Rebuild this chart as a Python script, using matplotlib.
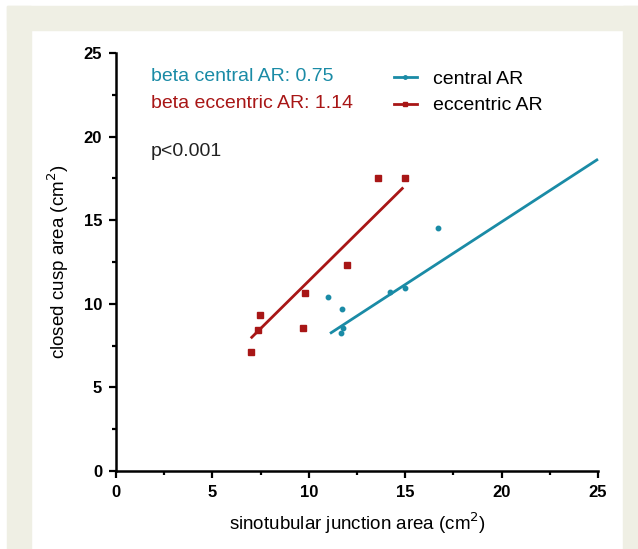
import matplotlib.pyplot as plt
from matplotlib.lines import Line2D
from matplotlib.patches import Rectangle
from matplotlib.ticker import MultipleLocator

plt.rcParams['font.family'] = ['Liberation Sans', 'DejaVu Sans']

# data
central_x = [10.98, 11.70, 11.79, 11.67, 14.21, 14.99, 16.70]
central_y = [10.43, 9.71, 8.53, 8.23, 10.73, 10.93, 14.52]
eccentric_x = [6.99, 7.38, 7.47, 9.68, 9.80, 11.97, 13.60, 14.99]
eccentric_y = [7.13, 8.43, 9.33, 8.53, 10.63, 12.32, 17.54, 17.54]

# regression lines (slope, intercept, x range)
central_fit = (0.75, -0.10, [11.1, 25.0])
eccentric_fit = (1.14, -0.03, [6.99, 14.9])

teal = '#1a8ba6'
red = '#a81616'
beige = '#efefe4'

fig = plt.figure(figsize=(6.38, 5.49), dpi=100)

# beige frame around the panel
for x0, y0, w, h in [(7 / 638, 0, 24 / 638, 543 / 549),
                     (7 / 638, 519 / 549, 631 / 638, 24 / 549),
                     (623 / 638, 0, 15 / 638, 543 / 549)]:
    fig.patches.append(Rectangle((x0, y0), w, h, transform=fig.transFigure,
                                 color=beige, zorder=0))

ax = fig.add_axes([116 / 638, 1 - 471 / 549, 482 / 638, 418 / 549])
ax.set_xlim(0, 25)
ax.set_ylim(0, 25)

s, b, xr = central_fit
ax.plot(xr, [s * v + b for v in xr], color=teal, lw=2, solid_capstyle='butt', clip_on=False)
s, b, xr = eccentric_fit
ax.plot(xr, [s * v + b for v in xr], color=red, lw=2, solid_capstyle='butt')

ax.plot(central_x, central_y, 'o', color=teal, ms=3.2, ls='none')
ax.plot(eccentric_x, eccentric_y, 's', color=red, ms=4.2, ls='none')

for side in ['top', 'right']:
    ax.spines[side].set_visible(False)
for side in ['left', 'bottom']:
    ax.spines[side].set_linewidth(1.8)

ax.xaxis.set_major_locator(MultipleLocator(5))
ax.yaxis.set_major_locator(MultipleLocator(5))
ax.xaxis.set_minor_locator(MultipleLocator(2.5))
ax.yaxis.set_minor_locator(MultipleLocator(2.5))
ax.tick_params(which='major', length=5, width=1.6, labelsize=12, pad=5)
ax.tick_params(which='minor', length=3, width=1.6)
for lab in ax.get_xticklabels() + ax.get_yticklabels():
    lab.set_fontweight('bold')

ax.set_xlabel('sinotubular junction area (cm$^2$)', fontsize=13.5, labelpad=8)
ax.set_ylabel('closed cusp area (cm$^2$)', fontsize=13.5, labelpad=9)

ax.text(1.8, 23.6, 'beta central AR: 0.75', color=teal, fontsize=14, va='center')
ax.text(1.8, 21.95, 'beta eccentric AR: 1.14', color=red, fontsize=14, va='center')
ax.text(1.8, 19.1, 'p<0.001', color='#222222', fontsize=14, va='center')

handles = [Line2D([], [], color=teal, lw=2, marker='o', ms=2.5),
           Line2D([], [], color=red, lw=2, marker='s', ms=3)]
ax.legend(handles, ['central AR', 'eccentric AR'], loc='upper left',
          bbox_to_anchor=(0.54, 1.0), frameon=False, fontsize=14,
          handlelength=1.2, handletextpad=0.8, labelspacing=0.45)

fig.savefig('out.png', dpi=100)
